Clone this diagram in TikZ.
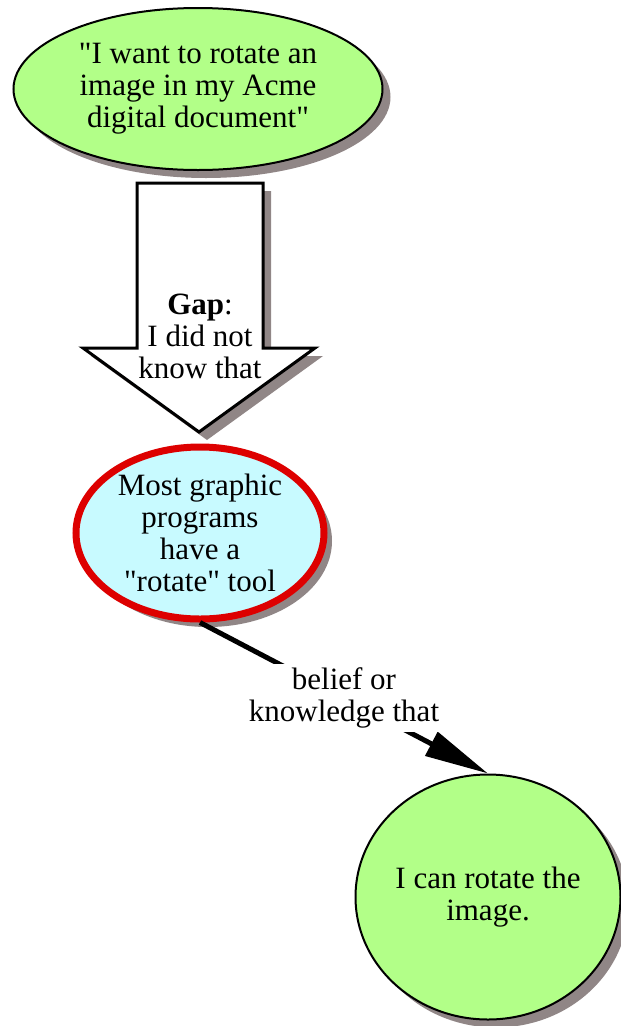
\documentclass[tikz,border=0pt]{standalone}
\usepackage{fontspec}
\setmainfont{Liberation Serif}[Ligatures=TeXOff]
\usetikzlibrary{arrows.meta,shapes.geometric,shadows}
\definecolor{leafgreen}{RGB}{178,255,136}
\definecolor{paleaqua}{RGB}{200,250,255}
\definecolor{ringred}{RGB}{221,0,0}
\definecolor{shadegray}{RGB}{144,134,134}
\tikzset{
  grayshadow/.style={drop shadow={shadow xshift=8pt,shadow yshift=-8pt,fill=shadegray,opacity=1}},
  bubble/.style={ellipse,draw,line width=2pt,fill=leafgreen,grayshadow,align=center,inner sep=0pt},
}
\begin{document}
\begin{tikzpicture}[x=1pt,y=-1pt,font=\fontsize{31}{32}\selectfont]
		\useasboundingbox (0,0) rectangle (621,1026);
		% what I want
		\node[bubble,minimum width=369pt,minimum height=162pt] (wish) at (198,89)
			{"I want to rotate an\\image in my Acme\\digital document"};
		% the gap (block arrow)
		\fill[shadegray,shift={(8,8)}] (137,183) -- (263,183) -- (263,348) -- (315,348)
			-- (199,432) -- (83,348) -- (137,348) -- cycle;
		\draw[line width=3pt,fill=white] (137,183) -- (263,183) -- (263,348) -- (315,348)
			-- (199,432) -- (83,348) -- (137,348) -- cycle;
		\node[align=center] (gap) at (200,336) {\textbf{Gap}:\\I did not\\know that};
		% the missing knowledge
		\node[bubble,fill=paleaqua,draw=ringred,line width=7pt,minimum width=248pt,minimum height=172pt] (tool) at (200,533)
			{Most graphic\\programs\\have a\\"rotate" tool};
		% what follows
		\node[bubble,minimum width=265pt,minimum height=245pt] (can) at (488,897)
			{I can rotate the\\image.};
		% link
		\draw[line width=5pt,-{Triangle[length=64pt,width=26pt]}] (tool.south) --
			node[fill=white,align=center,inner sep=4pt] (why) {belief or\\knowledge that} (can.north);
	\end{tikzpicture}
\end{document}
